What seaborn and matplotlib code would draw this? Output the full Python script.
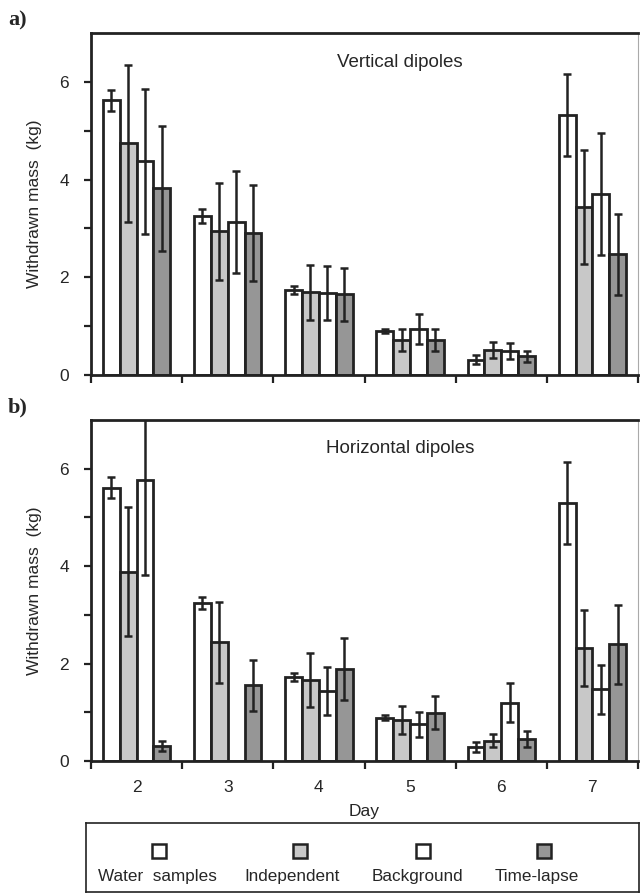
import numpy as np
import pandas as pd
import matplotlib
matplotlib.use("Agg")
import matplotlib.pyplot as plt
import seaborn as sns
from matplotlib.patches import Rectangle

# days and methods
days = ["2", "3", "4", "5", "6", "7"]
methods = ["Water samples", "Independent", "Background", "Time-lapse"]
colors = ["#ffffff", "#c8c8c8", "#ffffff", "#969696"]

# a) vertical dipoles: means and errors per method (days 2..7)
vert_water = [5.62, 3.25, 1.74, 0.90, 0.31, 5.32]
vert_indep = [4.74, 2.94, 1.69, 0.72, 0.51, 3.44]
vert_backg = [4.37, 3.13, 1.68, 0.94, 0.49, 3.71]
vert_tlapse = [3.82, 2.91, 1.65, 0.72, 0.38, 2.47]
vert_water_err = [0.22, 0.14, 0.08, 0.05, 0.09, 0.84]
vert_indep_err = [1.60, 0.99, 0.57, 0.22, 0.17, 1.16]
vert_backg_err = [1.48, 1.05, 0.56, 0.31, 0.16, 1.25]
vert_tlapse_err = [1.28, 0.98, 0.55, 0.23, 0.12, 0.83]

# b) horizontal dipoles (no background value on day 3)
hor_water = [5.61, 3.24, 1.73, 0.89, 0.29, 5.29]
hor_indep = [3.89, 2.44, 1.66, 0.84, 0.42, 2.31]
hor_backg = [5.77, 0.0, 1.44, 0.75, 1.20, 1.47]
hor_tlapse = [0.31, 1.55, 1.89, 0.99, 0.45, 2.40]
hor_water_err = [0.21, 0.13, 0.08, 0.05, 0.10, 0.84]
hor_indep_err = [1.32, 0.83, 0.56, 0.29, 0.14, 0.78]
hor_backg_err = [1.95, np.nan, 0.49, 0.26, 0.40, 0.50]
hor_tlapse_err = [0.10, 0.52, 0.64, 0.34, 0.16, 0.81]


def long_df(vals):
    rows = []
    for m, v in zip(methods, vals):
        for d, x in zip(days, v):
            rows.append({"day": d, "method": m, "mass": x})
    return pd.DataFrame(rows)


sns.set_style("ticks")
plt.rcParams["font.family"] = ["Liberation Sans", "DejaVu Sans"]
plt.rcParams["font.size"] = 12.5

fig = plt.figure(figsize=(6.41, 8.94), dpi=100)
ax1 = fig.add_axes([91 / 641, 1 - 375 / 894, 547 / 641, 342 / 894])
ax2 = fig.add_axes([91 / 641, 1 - 761 / 894, 547 / 641, 341 / 894])

panels = [
    (ax1, [vert_water, vert_indep, vert_backg, vert_tlapse],
     [vert_water_err, vert_indep_err, vert_backg_err, vert_tlapse_err],
     "Vertical dipoles", "a)"),
    (ax2, [hor_water, hor_indep, hor_backg, hor_tlapse],
     [hor_water_err, hor_indep_err, hor_backg_err, hor_tlapse_err],
     "Horizontal dipoles", "b)"),
]

for ax, vals, errs, title, tag in panels:
    df = long_df(vals)
    sns.barplot(data=df, x="day", y="mass", hue="method", hue_order=methods,
                palette=colors, errorbar=None, width=0.74, gap=0,
                edgecolor="#222222", linewidth=2.0, saturation=1,
                legend=False, ax=ax)
    # error bars on the bar centres
    for cont, e in zip(ax.containers, errs):
        xs = [b.get_x() + b.get_width() / 2 for b in cont]
        hs = [b.get_height() for b in cont]
        ax.errorbar(xs, hs, yerr=e, fmt="none", ecolor="#222222",
                    elinewidth=1.8, capsize=3, capthick=1.8, clip_on=True)

    ax.set_xlim(-0.5, 5.5)
    ax.set_ylim(0, 7)
    ax.set_yticks([0, 2, 4, 6])
    ax.set_yticks([1, 3, 5], minor=True)
    ax.set_xticks(np.arange(-0.5, 5.6, 1.0))
    ax.set_xticklabels([])
    ax.set_xticks(np.arange(6), minor=True)
    ax.tick_params(axis="y", which="both", direction="out", length=5,
                   width=1.6, color="#222222", labelsize=12.5, pad=11)
    ax.tick_params(axis="x", which="major", direction="out", length=6,
                   width=1.6, color="#222222")
    ax.tick_params(axis="x", which="minor", length=0, labelsize=12.5, pad=14)
    for s in ["left", "top", "bottom"]:
        ax.spines[s].set_visible(True)
        ax.spines[s].set_color("#222222")
        ax.spines[s].set_linewidth(2.0)
    ax.spines["right"].set_visible(True)
    ax.spines["right"].set_color("#aaaaaa")
    ax.spines["right"].set_linewidth(0.8)
    ax.set_xlabel("")
    ax.set_ylabel("Withdrawn mass  (kg)", fontsize=12.5, labelpad=12)
    ax.text(0.565, 0.915, title, transform=ax.transAxes, ha="center",
            va="center", fontsize=13.5)
    bb = ax.get_position()
    fig.text(8 / 641, bb.y1 + 13 / 894, tag, family="Liberation Serif",
             fontweight="bold", fontsize=16, ha="left", va="center")

ax2.set_xticklabels(days, minor=True)
ax2.set_xlabel("Day", fontsize=12.5, labelpad=6)

# legend box with handles above labels
lax = fig.add_axes([86 / 641, 1 - 892 / 894, 553 / 641, 69 / 894])
lax.set_xlim(0, 553)
lax.set_ylim(0, 69)
lax.set_xticks([])
lax.set_yticks([])
for s in lax.spines.values():
    s.set_visible(True)
    s.set_color("#222222")
    s.set_linewidth(1.2)
hx = [159, 300, 423, 544]
tx = [157, 292, 417, 537]
for m, c, h, t in zip(methods, colors, hx, tx):
    lax.add_patch(Rectangle((h - 86 - 7, 34), 14, 14, facecolor=c,
                            edgecolor="#222222", linewidth=1.8))
    lax.text(t - 86, 15, m.replace(" ", "  ") if m == "Water samples" else m,
             ha="center", va="center", fontsize=12.3)

fig.savefig("out.png", dpi=100)
